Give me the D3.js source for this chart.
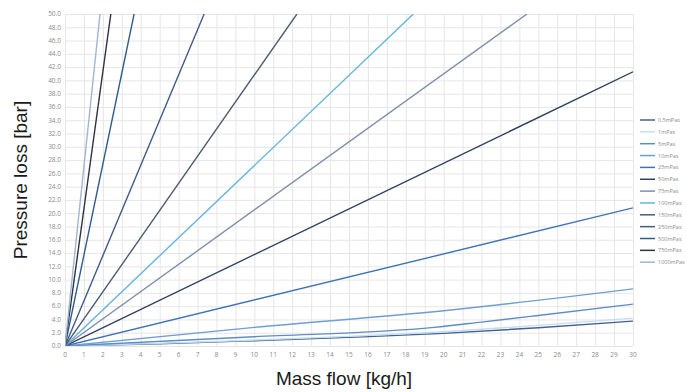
<!DOCTYPE html>
<html>
<head>
<meta charset="utf-8">
<script src="https://cdn.jsdelivr.net/npm/d3@7"></script>
<style>
  body { margin: 0; background: #fff; }
  svg { display: block; }
  .grid line { stroke: #e6e6e6; stroke-width: 1; }
  .grid path { display: none; }
  .tick-label { font-family: "Open Sans", sans-serif; font-size: 6.5px; fill: #8a8a8a; }
  .title { font-family: "Liberation Sans", Arial, sans-serif; font-size: 19px; fill: #1a1a1a; }
  .legend { font-family: "Open Sans", sans-serif; font-size: 5.5px; fill: #8a8a8a; }
</style>
</head>
<body>
<svg width="687" height="392"></svg>
<script>
// viscosity series as [mass flow, pressure loss]
const viscosities = ["0.5mPas", "1mPas", "5mPas", "10mPas", "25mPas", "50mPas", "75mPas",
  "100mPas", "150mPas", "250mPas", "500mPas", "750mPas", "1000mPas"];

const p05 = [[0, 0], [5, 0.35], [10, 0.8], [15, 1.3], [20, 1.9], [25, 2.75], [30, 3.75]];
const p1 = [[0, 0], [5, 0.4], [10, 0.9], [15, 1.45], [20, 2.15], [25, 3.1], [30, 4.2]];
const p5 = [[0, 0], [10, 1.4], [19.5, 2.8], [22, 3.6], [25, 4.6], [30, 6.3]];
const p10 = [[0, 0], [10, 2.8], [20, 5.3], [30, 8.6]];
const p25 = [[0, 0], [30, 20.8]];
const p50 = [[0, 0], [30, 41.3]];
const p75 = [[0, 0], [24.4, 50]];
const p100 = [[0, 0], [18.4, 50]];
const p150 = [[0, 0], [12.25, 50]];
const p250 = [[0, 0], [7.35, 50]];
const p500 = [[0, 0], [3.65, 50]];
const p750 = [[0, 0], [2.42, 50]];
const p1000 = [[0, 0], [1.85, 50]];

const series = [p05, p1, p5, p10, p25, p50, p75, p100, p150, p250, p500, p750, p1000];
const colors = ["#46618f", "#c3def2", "#5d8cc6", "#6d9ed4", "#3f73b4", "#2e4262", "#7f8fa8",
  "#66b3df", "#4f5b70", "#415d85", "#305c8c", "#2d3541", "#9fb7d4"];

const xTicks = d3.range(0, 31, 1);
const yTicks = d3.range(0, 51, 2);

const svg = d3.select("svg");
const plotLeft = 65, plotTop = 14, plotRight = 633, plotBottom = 346;

const x = d3.scaleLinear().domain([0, 30]).range([plotLeft, plotRight]);
const y = d3.scaleLinear().domain([0, 50]).range([plotBottom, plotTop]);

// grid
svg.append("g")
  .attr("class", "grid")
  .attr("transform", `translate(0, ${plotBottom})`)
  .call(d3.axisBottom(x).tickValues(xTicks).tickSize(-(plotBottom - plotTop)).tickFormat(""));

svg.append("g")
  .attr("class", "grid")
  .attr("transform", `translate(${plotLeft}, 0)`)
  .call(d3.axisLeft(y).tickValues(yTicks).tickSize(-(plotRight - plotLeft)).tickFormat(""));

// tick labels
svg.append("g").selectAll("text").data(xTicks).enter().append("text")
  .attr("class", "tick-label")
  .attr("x", (d) => x(d))
  .attr("y", plotBottom + 11)
  .attr("text-anchor", "middle")
  .text((d) => d);

svg.append("g").selectAll("text").data(yTicks).enter().append("text")
  .attr("class", "tick-label")
  .attr("x", plotLeft - 4)
  .attr("y", (d) => y(d) + 2.3)
  .attr("text-anchor", "end")
  .text((d) => d.toFixed(1));

svg.append("clipPath").attr("id", "plot")
  .append("rect")
  .attr("x", plotLeft).attr("y", plotTop)
  .attr("width", plotRight - plotLeft).attr("height", plotBottom - plotTop);

const line = d3.line()
  .x((d) => x(d[0]))
  .y((d) => y(d[1]))
  .curve(d3.curveMonotoneX);

svg.append("g")
  .attr("clip-path", "url(#plot)")
  .selectAll("path")
  .data(series)
  .enter()
  .append("path")
  .attr("d", line)
  .attr("fill", "none")
  .attr("stroke", (d, i) => colors[i])
  .attr("stroke-width", 1.4);

// legend
const legend = svg.append("g").selectAll("g").data(viscosities).enter().append("g")
  .attr("transform", (d, i) => `translate(640, ${120 + i * 11.85})`);

legend.append("line")
  .attr("x1", 0).attr("x2", 15)
  .attr("stroke", (d, i) => colors[i])
  .attr("stroke-width", 1.5);

legend.append("text")
  .attr("class", "legend")
  .attr("x", 18)
  .attr("y", 2)
  .text((d) => d);

svg.append("text")
  .attr("class", "title")
  .attr("transform", "translate(27, 180) rotate(-90)")
  .attr("text-anchor", "middle")
  .text("Pressure loss [bar]");

svg.append("text")
  .attr("class", "title")
  .attr("x", 344)
  .attr("y", 385)
  .attr("text-anchor", "middle")
  .text("Mass flow [kg/h]");
</script>
</body>
</html>
